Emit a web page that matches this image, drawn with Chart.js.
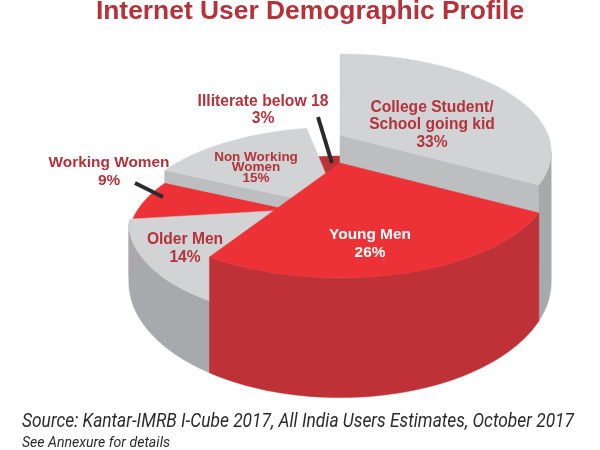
<!DOCTYPE html>
<html>
<head>
<meta charset="utf-8">
<title>Internet User Demographic Profile</title>
<script src="https://cdn.jsdelivr.net/npm/chart.js@4/dist/chart.umd.min.js"></script>
<style>
    html, body { margin: 0; padding: 0; background: #fff; }
    canvas { display: block; }
</style>
</head>
<body>
<canvas id="demographicChart" width="600" height="450"></canvas>
<script>
var categories = ['College Student/School going kid', 'Young Men', 'Older Men', 'Working Women', 'Non Working Women', 'Illiterate below 18'];
var shares = [33, 26, 14, 9, 15, 3];

// look of the slices
var topColors = ['#d1d3d4', '#ed3237', '#d1d3d4', '#ed3237', '#d1d3d4', '#be3237'];
var edgeWallColors = ['#bcbec0', '#be3237', '#a7a9ac', '#be3237', '#bcbec0', '#be3237'];
var outerWallColors = ['#a7a9ac', '#be3237', '#a7a9ac', '#be3237', '#a7a9ac', '#be3237'];
var sliceDrops = [-28, 0, 44, 58, 45, 74];
var paintOrder = [5, 4, 0, 3, 2, 1];

var view = { x: 340, y: 163, rx: 208, ry: 95, perspective: 0.173, base: 99 };
var labelRed = '#b5323a';
var boldFont = '"Liberation Sans", Arial, sans-serif';

function project(angle, radius, drop) {
    var across = radius * Math.cos(angle);
    var along = radius * Math.sin(angle);
    var w = 1 - view.perspective * along;
    return [view.x + view.rx * across / w, view.y + view.ry * along / w + drop];
}

function projectBase(angle, radius) {
    var w = 1 - view.perspective * radius * Math.sin(angle);
    return project(angle, radius, view.base / w);
}

function fillShape(ctx, points, color) {
    ctx.beginPath();
    points.forEach(function (p, i) {
        if (i === 0) {
            ctx.moveTo(p[0], p[1]);
        } else {
            ctx.lineTo(p[0], p[1]);
        }
    });
    ctx.closePath();
    ctx.fillStyle = color;
    ctx.strokeStyle = color;
    ctx.lineWidth = 0.5;
    ctx.fill();
    ctx.stroke();
}

function arcPoints(from, to, pointAt) {
    var points = [];
    var steps = Math.max(2, Math.ceil((to - from) / 0.03));
    for (var i = 0; i <= steps; i++) {
        points.push(pointAt(from + (to - from) * i / steps));
    }
    return points;
}

function edgeWall(ctx, angle, drop, color) {
    fillShape(ctx, [
        project(angle, 0, drop),
        project(angle, 1, drop),
        projectBase(angle, 1),
        projectBase(angle, 0)
    ], color);
}

function drawSlice(ctx, arc, index) {
    var start = arc.startAngle;
    var end = arc.endAngle;
    var drop = sliceDrops[index];
    var topAt = function (angle) { return project(angle, 1, drop); };
    var baseAt = function (angle) { return projectBase(angle, 1); };

    // side walls that face the viewer
    if (Math.cos(start) < 0) {
        edgeWall(ctx, start, drop, edgeWallColors[index]);
    }
    if (Math.cos(end) > 0) {
        edgeWall(ctx, end, drop, edgeWallColors[index]);
    }

    // outer wall, only the part in front of the silhouette
    var limit = Math.asin(view.perspective);
    var wallFrom = Math.max(start, limit);
    var wallTo = Math.min(end, Math.PI - limit);
    if (wallTo > wallFrom) {
        var wall = arcPoints(wallFrom, wallTo, topAt).concat(arcPoints(wallFrom, wallTo, baseAt).reverse());
        fillShape(ctx, wall, outerWallColors[index]);
    }

    fillShape(ctx, [project(start, 0, drop)].concat(arcPoints(start, end, topAt)), arc.options.backgroundColor);
}

function writeLines(ctx, lines, x, color, font) {
    ctx.font = font;
    ctx.fillStyle = color;
    lines.forEach(function (line) {
        ctx.fillText(line[0], x, line[1], line[2]);
    });
}

function leader(ctx, x1, y1, x2, y2) {
    ctx.beginPath();
    ctx.moveTo(x1, y1);
    ctx.lineTo(x2, y2);
    ctx.strokeStyle = '#2b2b2e';
    ctx.lineWidth = 4;
    ctx.stroke();
}

var pie3d = {
    id: 'pie3d',
    beforeDatasetsDraw: function (chart) {
        var ctx = chart.ctx;
        var arcs = chart.getDatasetMeta(0).data;

        ctx.save();
        paintOrder.forEach(function (index) {
            drawSlice(ctx, arcs[index], index);
        });
        ctx.restore();

        // the slices are painted above, the flat ones are not wanted
        return false;
    },
    afterDraw: function (chart) {
        var ctx = chart.ctx;

        ctx.save();
        leader(ctx, 318, 117, 332, 163);
        leader(ctx, 135, 183, 163, 197);

        ctx.textBaseline = 'alphabetic';
        ctx.textAlign = 'center';
        writeLines(ctx, [['Internet User Demographic Profile', 19]], 310, labelRed, 'bold 26.4px ' + boldFont);
        writeLines(ctx, [['College Student/', 112], ['School going kid', 129], ['33%', 147]], 432, labelRed, 'bold 15.6px ' + boldFont);
        writeLines(ctx, [['Young Men', 239], ['26%', 257]], 370, '#ffffff', 'bold 15.4px ' + boldFont);
        writeLines(ctx, [['Older Men', 244], ['14%', 262]], 185, labelRed, 'bold 15.6px ' + boldFont);
        writeLines(ctx, [['Non Working', 161], ['Women', 171], ['15%', 182]], 256, labelRed, 'bold 13.5px ' + boldFont);
        writeLines(ctx, [['Illiterate below 18', 106], ['3%', 123]], 263, labelRed, 'bold 15.7px ' + boldFont);
        writeLines(ctx, [['Working Women', 167], ['9%', 185]], 109, labelRed, 'bold 15.4px ' + boldFont);

        ctx.textAlign = 'left';
        writeLines(ctx, [['Source: Kantar-IMRB I-Cube 2017, All India Users Estimates, October 2017', 427, 552]], 22, '#2b2b2b', 'italic 20px Roboto, sans-serif');
        writeLines(ctx, [['See Annexure for details', 447, 148]], 22, '#2b2b2b', 'italic 15px Roboto, sans-serif');
        ctx.restore();
    }
};

new Chart(document.getElementById('demographicChart'), {
    type: 'pie',
    data: {
        labels: categories,
        datasets: [{
            data: shares,
            backgroundColor: topColors,
            borderWidth: 0
        }]
    },
    options: {
        responsive: false,
        animation: false,
        plugins: {
            legend: { display: false },
            tooltip: { enabled: false }
        }
    },
    plugins: [pie3d]
});
</script>
</body>
</html>
